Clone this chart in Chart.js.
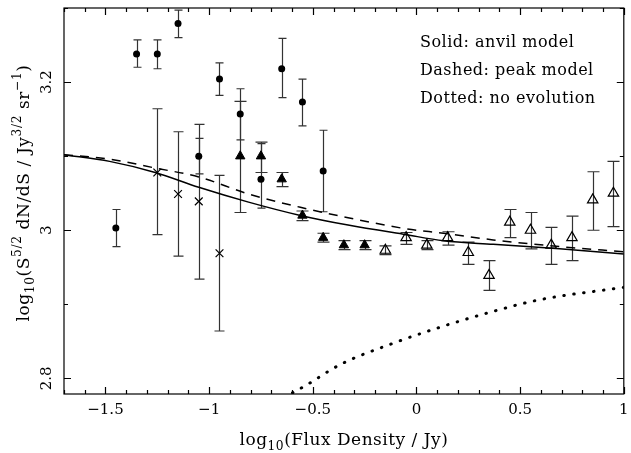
<!DOCTYPE html>
<html>
<head>
<meta charset="utf-8">
<script src="https://cdn.jsdelivr.net/npm/chart.js@4/dist/chart.umd.min.js"></script>
<style>
  body { margin: 0; background: #fff; }
  #wrap { width: 631px; height: 453px; }
</style>
</head>
<body>
<div id="wrap"><canvas id="myChart"></canvas></div>
<script>
// source counts

// filled circles
var circX  = [-1.45, -1.35, -1.25, -1.15, -1.05, -0.95, -0.85, -0.75, -0.65, -0.55, -0.45];
var circY  = [3.003, 3.238, 3.238, 3.279, 3.100, 3.204, 3.157, 3.069, 3.218, 3.173, 3.080];
var circLo = [2.978, 3.220, 3.218, 3.260, 3.076, 3.182, 3.122, 3.030, 3.179, 3.141, 3.025];
var circHi = [3.028, 3.257, 3.257, 3.297, 3.124, 3.226, 3.191, 3.117, 3.259, 3.204, 3.135];

// crosses
var crossX  = [-1.25, -1.15, -1.05, -0.95];
var crossY  = [3.078, 3.049, 3.039, 2.969];
var crossLo = [2.994, 2.965, 2.934, 2.864];
var crossHi = [3.164, 3.133, 3.143, 3.074];

// filled triangles
var triX  = [-0.85, -0.75, -0.65, -0.55, -0.45, -0.35, -0.25];
var triY  = [3.100, 3.100, 3.069, 3.020, 2.990, 2.980, 2.980];
var triLo = [3.024, 3.078, 3.059, 3.013, 2.984, 2.974, 2.974];
var triHi = [3.174, 3.119, 3.078, 3.026, 2.996, 2.986, 2.986];

// open triangles
var otriX  = [-0.15, -0.05, 0.05, 0.15, 0.25, 0.35, 0.45, 0.55, 0.65, 0.75, 0.85, 0.95];
var otriY  = [2.973, 2.990, 2.980, 2.990, 2.970, 2.939, 3.011, 3.000, 2.980, 2.990, 3.041, 3.050];
var otriLo = [2.967, 2.981, 2.974, 2.980, 2.954, 2.919, 2.990, 2.975, 2.954, 2.959, 3.000, 3.005];
var otriHi = [2.979, 2.997, 2.986, 2.998, 2.984, 2.959, 3.028, 3.024, 3.004, 3.019, 3.079, 3.093];

// model curves
var anvilX = [-1.7, -1.48, -1.26, -1.05, -0.81, -0.56, -0.33, -0.05, 0.13, 0.37, 0.69, 1.0];
var anvilY = [3.102, 3.093, 3.078, 3.058, 3.038, 3.020, 3.007, 2.994, 2.986, 2.981, 2.975, 2.968];
var peakX  = [-1.7, -1.48, -1.26, -1.05, -0.81, -0.56, -0.33, -0.05, 0.13, 0.37, 0.69, 1.0];
var peakY  = [3.102, 3.096, 3.084, 3.072, 3.049, 3.031, 3.017, 3.002, 2.996, 2.987, 2.978, 2.971];
var noevX  = [-0.64, -0.525, -0.366, -0.127, 0.112, 0.351, 0.59, 1.0];
var noevY  = [2.774, 2.792, 2.819, 2.846, 2.869, 2.889, 2.906, 2.923];

var xTicks = [-1.5, -1, -0.5, 0, 0.5, 1];
var yTicks = [2.8, 3, 3.2];
var xMinor = 0.1, yMinor = 0.1;

var notes = ['Solid: anvil model', 'Dashed: peak model', 'Dotted: no evolution'];

var FONT = '"DejaVu Serif", "Liberation Serif", serif';

function pts(xs, ys) {
    var out = [];
    for (var i = 0; i < xs.length; i++) out.push({x: xs[i], y: ys[i]});
    return out;
}

function fmt(v) {
    var s = String(v);
    return s.replace('-', '\u2212');
}

// text with sub/superscripts, centred on (0,0) of current transform
function richText(ctx, parts, size, spacing) {
    var w = 0, i;
    ctx.letterSpacing = spacing + 'px';
    for (i = 0; i < parts.length; i++) {
        var fs = parts[i][1] ? size * 0.72 : size;
        ctx.font = fs + 'px ' + FONT;
        w += ctx.measureText(parts[i][0]).width;
    }
    var x = -w / 2;
    ctx.textAlign = 'left';
    ctx.textBaseline = 'middle';
    for (i = 0; i < parts.length; i++) {
        var kind = parts[i][1];
        var fs2 = kind ? size * 0.72 : size;
        var dy = kind == 'sub' ? size * 0.32 : (kind == 'sup' ? -size * 0.42 : 0);
        ctx.font = fs2 + 'px ' + FONT;
        ctx.fillText(parts[i][0], x, dy);
        x += ctx.measureText(parts[i][0]).width;
    }
    ctx.letterSpacing = '0px';
}

var errSets = [
    {x: circX, lo: circLo, hi: circHi, cap: 4},
    {x: crossX, lo: crossLo, hi: crossHi, cap: 5},
    {x: triX, lo: triLo, hi: triHi, cap: 6},
    {x: otriX, lo: otriLo, hi: otriHi, cap: 6}
];

var errorBars = {
    id: 'errorBars',
    beforeDatasetsDraw: function(chart) {
        var ctx = chart.ctx, xs = chart.scales.x, ys = chart.scales.y;
        ctx.save();
        ctx.strokeStyle = '#333';
        ctx.lineWidth = 1.2;
        errSets.forEach(function(set) {
            for (var i = 0; i < set.x.length; i++) {
                var px = Math.round(xs.getPixelForValue(set.x[i])) + 0.5;
                var p1 = ys.getPixelForValue(set.lo[i]);
                var p2 = ys.getPixelForValue(set.hi[i]);
                ctx.beginPath();
                ctx.moveTo(px, p1); ctx.lineTo(px, p2);
                ctx.moveTo(px - set.cap, p1); ctx.lineTo(px + set.cap, p1);
                ctx.moveTo(px - set.cap, p2); ctx.lineTo(px + set.cap, p2);
                ctx.stroke();
            }
        });
        ctx.restore();
    }
};

var frame = {
    id: 'frame',
    afterDraw: function(chart) {
        var ctx = chart.ctx, a = chart.chartArea;
        var xs = chart.scales.x, ys = chart.scales.y;
        ctx.save();
        ctx.strokeStyle = '#000';
        ctx.fillStyle = '#000';
        ctx.lineWidth = 1.2;
        ctx.strokeRect(a.left, a.top, a.right - a.left, a.bottom - a.top);

        // tick marks on all four sides
        ctx.beginPath();
        var v, p, len;
        for (v = Math.ceil(xs.min / xMinor) * xMinor; v <= xs.max + 1e-9; v += xMinor) {
            var major = Math.abs(v * 2 - Math.round(v * 2)) < 1e-6;
            len = major ? 7 : 4;
            p = Math.round(xs.getPixelForValue(v)) + 0.5;
            ctx.moveTo(p, a.bottom); ctx.lineTo(p, a.bottom - len);
            ctx.moveTo(p, a.top); ctx.lineTo(p, a.top + len);
        }
        for (v = Math.ceil(ys.min / yMinor) * yMinor; v <= ys.max + 1e-9; v += yMinor) {
            var majorY = Math.abs(v * 5 - Math.round(v * 5)) < 1e-6;
            len = majorY ? 7 : 4;
            p = Math.round(ys.getPixelForValue(v)) + 0.5;
            ctx.moveTo(a.left, p); ctx.lineTo(a.left + len, p);
            ctx.moveTo(a.right, p); ctx.lineTo(a.right - len, p);
        }
        ctx.stroke();

        // tick labels
        ctx.font = '15px ' + FONT;
        ctx.textAlign = 'center';
        ctx.textBaseline = 'middle';
        xTicks.forEach(function(t) {
            ctx.fillText(fmt(t), xs.getPixelForValue(t), 410);
        });
        yTicks.forEach(function(t) {
            ctx.save();
            ctx.translate(47, ys.getPixelForValue(t));
            ctx.rotate(-Math.PI / 2);
            ctx.fillText(fmt(t), 0, 0);
            ctx.restore();
        });

        // axis titles
        ctx.save();
        ctx.translate((a.left + a.right) / 2, 441);
        richText(ctx, [['log', ''], ['10', 'sub'], ['(Flux Density / Jy)', '']], 17, 0.5);
        ctx.restore();

        ctx.save();
        ctx.translate(25, 193);
        ctx.rotate(-Math.PI / 2);
        richText(ctx, [['log', ''], ['10', 'sub'], ['(S', ''], ['5/2', 'sup'], [' dN/dS / Jy', ''],
                       ['3/2', 'sup'], [' sr', ''], ['\u22121', 'sup'], [')', '']], 17, 0.6);
        ctx.restore();

        // model notes
        ctx.font = '16px ' + FONT;
        ctx.letterSpacing = '0.5px';
        ctx.textAlign = 'left';
        ctx.textBaseline = 'middle';
        notes.forEach(function(n, i) {
            ctx.fillText(n, 420, 43 + i * 28);
        });
        ctx.restore();
    }
};

window.onload = function() {
    var ctx = document.getElementById('myChart').getContext('2d');
    var myChart = new Chart(ctx, {
        type: 'scatter',
        data: {
            datasets: [
                {
                    label: 'anvil', data: pts(anvilX, anvilY), showLine: true,
                    borderColor: '#000', borderWidth: 1.5, pointRadius: 0,
                    cubicInterpolationMode: 'monotone'
                },
                {
                    label: 'peak', data: pts(peakX, peakY), showLine: true,
                    borderColor: '#000', borderWidth: 1.5, pointRadius: 0,
                    borderDash: [9, 7], cubicInterpolationMode: 'monotone'
                },
                {
                    label: 'no evolution', data: pts(noevX, noevY), showLine: true,
                    borderColor: '#000', borderWidth: 3, pointRadius: 0,
                    borderDash: [0.5, 9.5], borderCapStyle: 'round',
                    cubicInterpolationMode: 'monotone'
                },
                {
                    label: 'circles', data: pts(circX, circY), pointStyle: 'circle',
                    pointRadius: 3.5, backgroundColor: '#000', borderColor: '#000', borderWidth: 0
                },
                {
                    label: 'crosses', data: pts(crossX, crossY), pointStyle: 'crossRot',
                    pointRadius: 5.5, borderColor: '#000', borderWidth: 1.2
                },
                {
                    label: 'filled triangles', data: pts(triX, triY), pointStyle: 'triangle',
                    pointRadius: 5.4, backgroundColor: '#000', borderColor: '#000', borderWidth: 1
                },
                {
                    label: 'open triangles', data: pts(otriX, otriY), pointStyle: 'triangle',
                    pointRadius: 6, backgroundColor: 'rgba(0,0,0,0)', borderColor: '#000', borderWidth: 1.2
                }
            ]
        },
        options: {
            responsive: true,
            maintainAspectRatio: false,
            animation: false,
            layout: { padding: { top: 8, right: 2, left: 0, bottom: 0 } },
            plugins: { legend: { display: false }, tooltip: { enabled: false } },
            scales: {
                x: {
                    type: 'linear', min: -1.7, max: 1.0,
                    grid: { display: false }, border: { display: false },
                    ticks: { display: false },
                    afterFit: function(s) { s.height = 59; }
                },
                y: {
                    type: 'linear', min: 2.779, max: 3.30,
                    grid: { display: false }, border: { display: false },
                    ticks: { display: false },
                    afterFit: function(s) { s.width = 64; }
                }
            }
        },
        plugins: [errorBars, frame]
    });
};
</script>
</body>
</html>
